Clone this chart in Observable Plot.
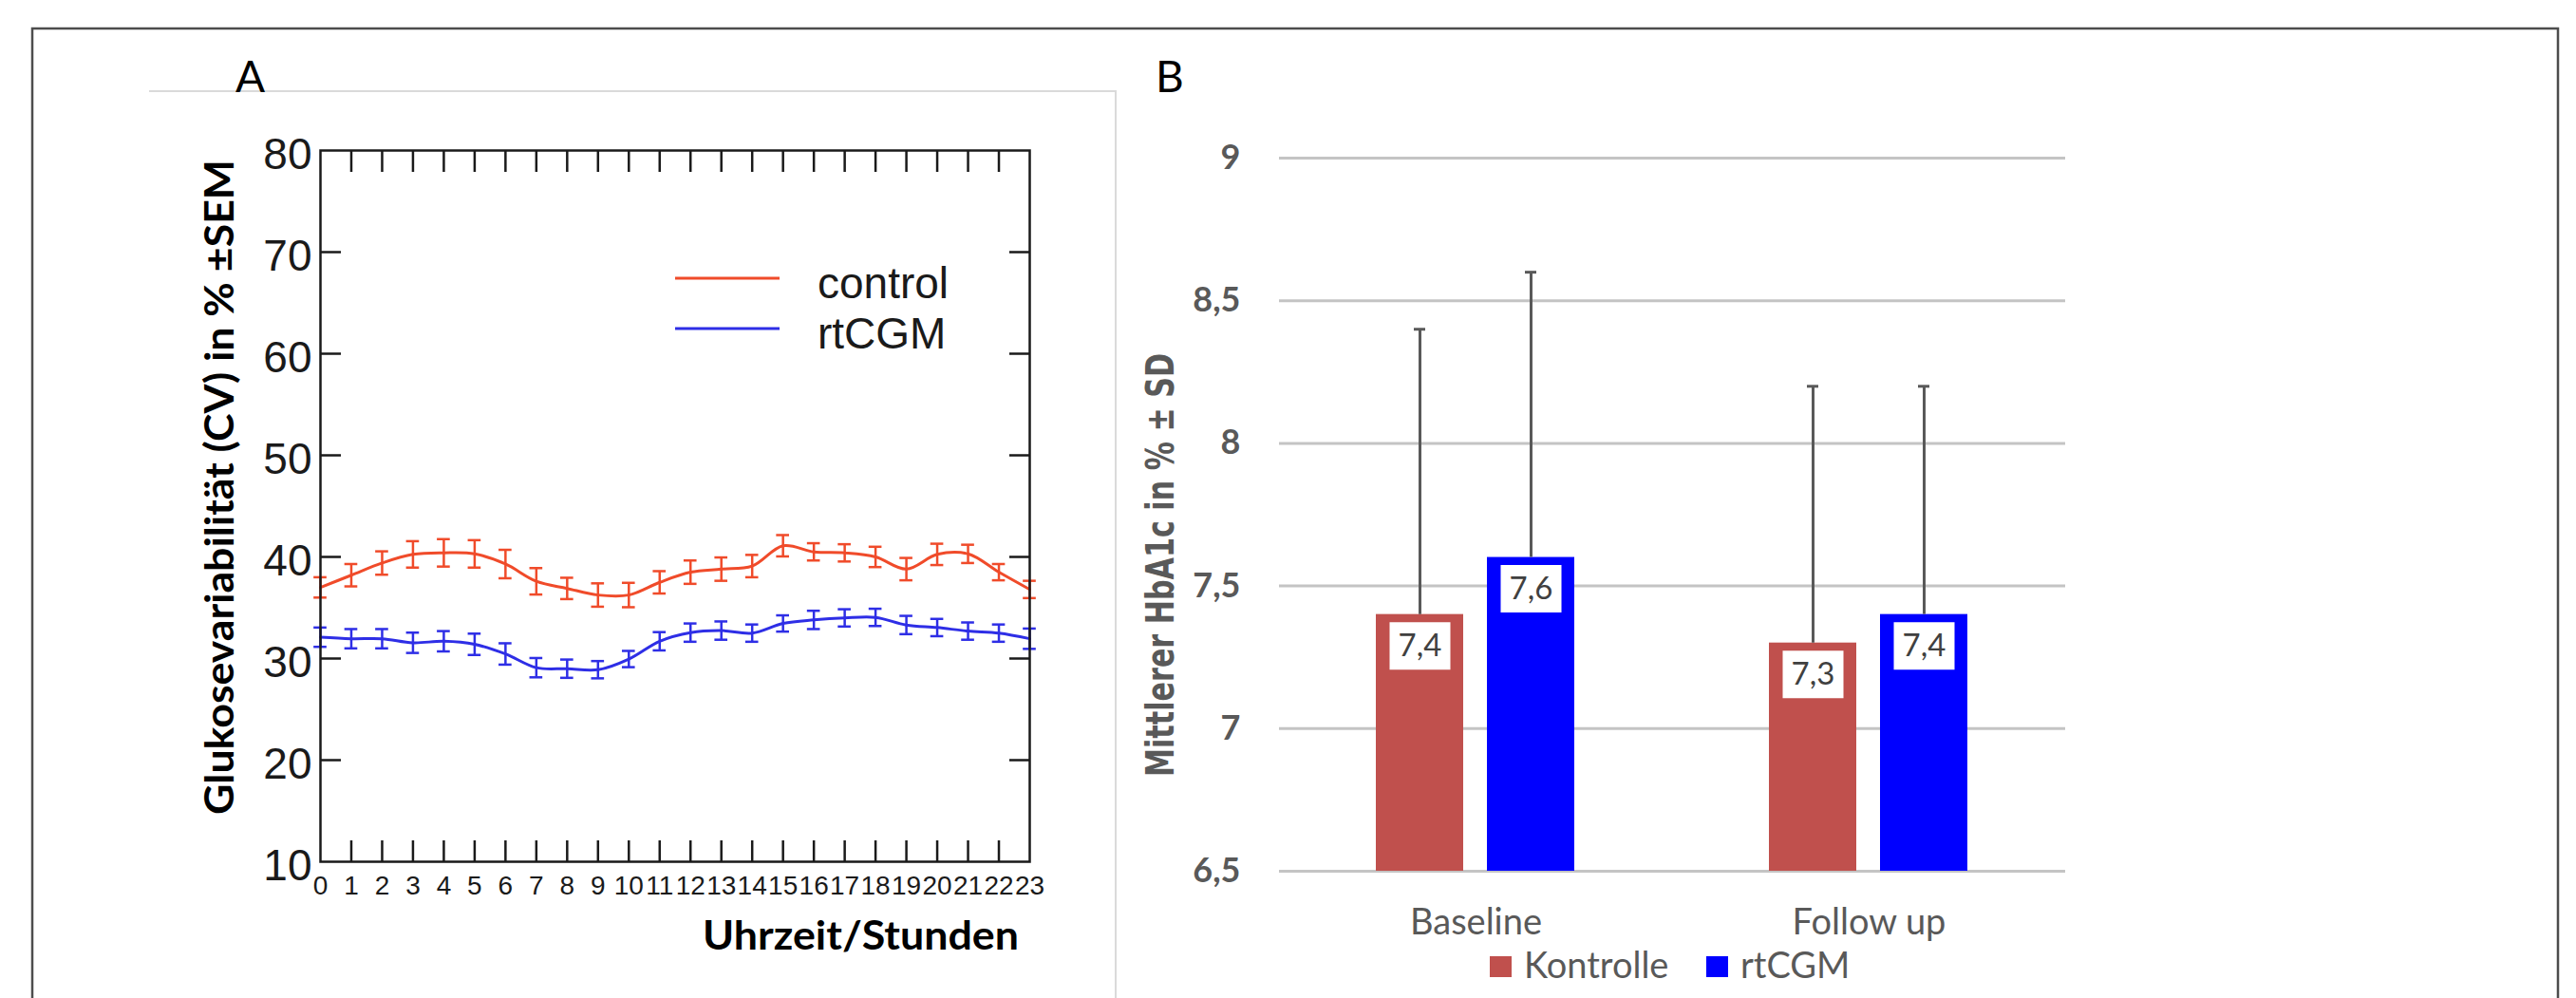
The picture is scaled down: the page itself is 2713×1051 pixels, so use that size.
<!DOCTYPE html>
<html>
<head>
<meta charset="utf-8">
<script src="https://cdn.jsdelivr.net/npm/d3@7"></script>
<script src="https://cdn.jsdelivr.net/npm/@observablehq/plot@0.6"></script>
<style>
html, body { margin: 0; padding: 0; width: 2713px; height: 1051px; overflow: hidden; background: #ffffff; }
#page { position: relative; width: 2713px; height: 1051px; }
#page > svg, #page > figure { position: absolute; top: 0; margin: 0; }
</style>
</head>
<body>
<div id="page"></div>
<script>
// ---------- Panel A data ----------
const hours = [0,1,2,3,4,5,6,7,8,9,10,11,12,13,14,15,16,17,18,19,20,21,22,23];
const innerHours = [1,2,3,4,5,6,7,8,9,10,11,12,13,14,15,16,17,18,19,20,21,22];
const yTicksA = [10,20,30,40,50,60,70,80];
const innerYTicksA = [20,30,40,50,60,70];
const seriesA = ["control", "rtCGM"];
const colorsA = ["#F04B2A", "#2E2EE6"];
const controlMean = [37.0,38.2,39.4,40.25,40.4,40.3,39.3,37.6,36.9,36.25,36.25,37.5,38.5,38.8,39.1,41.1,40.5,40.4,40.0,38.8,40.25,40.3,38.5,36.8];
const controlSem  = [1.0,1.1,1.15,1.3,1.35,1.35,1.4,1.3,1.05,1.15,1.2,1.1,1.15,1.15,1.1,1.05,0.85,0.85,1.0,1.1,1.05,0.9,0.8,0.85];
const rtcgmMean   = [32.1,31.95,31.95,31.55,31.7,31.4,30.45,29.1,29.0,28.9,29.95,31.7,32.55,32.75,32.5,33.45,33.8,34.0,34.05,33.3,33.05,32.7,32.5,31.95];
const rtcgmSem    = [0.95,0.95,0.95,1.0,1.0,1.05,1.05,0.95,0.9,0.85,0.8,0.9,0.9,0.9,0.85,0.8,0.9,0.85,0.85,0.9,0.85,0.85,0.85,1.0];
const titleA = "Glukosevariabilität (CV) in % ±SEM";
const xTitleA = "Uhrzeit/Stunden";

// ---------- Panel B data ----------
const groupsB = ["Baseline", "Follow up"];
const seriesB = ["Kontrolle", "rtCGM"];
const colorsB = ["#C0504D", "#0000FF"];
const kontrolleMean = [7.4, 7.3];
const kontrolleSD   = [1.0, 0.9];
const rtcgmBMean    = [7.6, 7.4];
const rtcgmBSD      = [1.0, 0.8];
const yTicksB = [6.5, 7, 7.5, 8, 8.5, 9];
const titleB = "Mittlerer HbA1c in % ± SD";

const comma = v => String(v).replace(".", ",");

// ---------- tables ----------
const meansA = [controlMean, rtcgmMean], semsA = [controlSem, rtcgmSem];
const rowsA = [];
seriesA.forEach((s, i) => hours.forEach((h, j) => rowsA.push({series: s, hour: h, mean: meansA[i][j], sem: semsA[i][j]})));

const meansB = [kontrolleMean, rtcgmBMean], sdsB = [kontrolleSD, rtcgmBSD];
const rowsB = [];
groupsB.forEach((g, i) => seriesB.forEach((s, j) => rowsB.push({group: g, series: s, mean: meansB[j][i], sd: sdsB[j][i]})));

const page = document.getElementById("page");
const ink = "#1a1a1a";

// ---------- Panel A ----------
const chartA = Plot.plot({
  width: 1175, height: 1051,
  marginLeft: 337, marginRight: 91, marginTop: 158, marginBottom: 144,
  style: {background: "transparent", overflow: "visible", fontFamily: "'Liberation Sans', Arial, sans-serif", color: ink},
  x: {domain: [hours[0], hours[hours.length - 1]]},
  y: {domain: [yTicksA[0], yTicksA[yTicksA.length - 1]]},
  color: {domain: seriesA, range: colorsA},
  marks: [
    Plot.ruleX(rowsA, {x: "hour", y1: d => d.mean - d.sem, y2: d => d.mean + d.sem, stroke: "series", strokeWidth: 2.5}),
    Plot.ruleY(rowsA, {y: d => d.mean + d.sem, x1: d => d.hour - 0.21, x2: d => d.hour + 0.21, stroke: "series", strokeWidth: 2.5}),
    Plot.ruleY(rowsA, {y: d => d.mean - d.sem, x1: d => d.hour - 0.21, x2: d => d.hour + 0.21, stroke: "series", strokeWidth: 2.5}),
    Plot.line(rowsA, {x: "hour", y: "mean", z: "series", stroke: "series", strokeWidth: 3, curve: "catmull-rom"}),
    // inward tick marks on all four sides
    Plot.axisY(innerYTicksA, {anchor: "left", tickSize: 22, dx: 22, fill: "none", stroke: ink, strokeWidth: 2.5, label: null}),
    Plot.axisY(innerYTicksA, {anchor: "right", tickSize: 22, dx: -22, fill: "none", stroke: ink, strokeWidth: 2.5, label: null}),
    Plot.axisX(innerHours, {anchor: "bottom", tickSize: 22, dy: -22, fill: "none", stroke: ink, strokeWidth: 2.5, label: null}),
    Plot.axisX(innerHours, {anchor: "top", tickSize: 22, dy: 22, fill: "none", stroke: ink, strokeWidth: 2.5, label: null}),
    // tick labels
    Plot.axisY(yTicksA, {anchor: "left", tickSize: 0, tickPadding: 9, dy: 5, fontSize: 46, fill: ink, label: null, tickFormat: d => String(d)}),
    Plot.axisX(hours, {anchor: "bottom", tickSize: 0, tickPadding: 15, fontSize: 28, fill: ink, label: null, tickFormat: d => String(d)}),
    Plot.frame({stroke: ink, strokeWidth: 2.5})
  ]
});
chartA.style.left = "0px";

// ---------- Panel B ----------
const boxSymbol = {draw(context) { context.rect(-32, -25, 64, 50); }};
const chartB = Plot.plot({
  width: 1100, height: 1051,
  marginLeft: 166, marginRight: 105, marginTop: 166, marginBottom: 134,
  style: {background: "transparent", overflow: "visible", fontFamily: "Lato, 'Open Sans', sans-serif", color: "#595959"},
  fx: {domain: groupsB, padding: 0, label: null},
  x: {domain: seriesB, paddingInner: 0.212, paddingOuter: 0.862, axis: null},
  y: {domain: [yTicksB[0], yTicksB[yTicksB.length - 1]]},
  color: {domain: seriesB, range: colorsB},
  marks: [
    Plot.ruleY(yTicksB, {stroke: "#c4c4c4", strokeWidth: 3}),
    Plot.barY(rowsB, {fx: "group", x: "series", y1: yTicksB[0], y2: "mean", fill: "series"}),
    Plot.ruleX(rowsB, {fx: "group", x: "series", y1: "mean", y2: d => d.mean + d.sd, stroke: "#595959", strokeWidth: 3}),
    Plot.tickY(rowsB, {fx: "group", x: "series", y: d => d.mean + d.sd, stroke: "#595959", strokeWidth: 3, insetLeft: 40, insetRight: 40}),
    Plot.dot(rowsB, {fx: "group", x: "series", y: "mean", dy: 33, symbol: boxSymbol, fill: "white", stroke: "none"}),
    Plot.text(rowsB, {fx: "group", x: "series", y: "mean", dy: 33, text: d => comma(d.mean), fontSize: 33, fill: "#404040"}),
    Plot.axisY(yTicksB, {anchor: "left", tickSize: 0, tickPadding: 41, fontSize: 36, fontWeight: "bold", fill: "#595959", label: null, tickFormat: comma}),
    Plot.axisFx({anchor: "bottom", tickSize: 0, tickPadding: 40, fontSize: 38, fill: "#595959", label: null})
  ]
});
chartB.style.left = "1180px";

// ---------- overlay: frames, panel letters, titles, legends ----------
const W = 2713, H = 1051;
const ov = d3.create("svg").attr("width", W).attr("height", H).attr("viewBox", `0 0 ${W} ${H}`)
  .style("left", "0px").style("pointer-events", "none");
ov.append("path").attr("d", `M34,${H} V30 H2694 V${H}`).attr("fill", "none").attr("stroke", "#4d4d4d").attr("stroke-width", 2.5);
ov.append("path").attr("d", `M157,96 H1175 V${H}`).attr("fill", "none").attr("stroke", "#dadada").attr("stroke-width", 2);

const txt = (s, x, y, o = {}) => {
  const t = ov.append("text").attr("x", x).attr("y", y).text(s)
    .attr("font-family", o.family || "Lato, sans-serif")
    .attr("font-size", o.size || 40)
    .attr("font-weight", o.weight || "normal")
    .attr("fill", o.fill || "#000")
    .attr("text-anchor", o.anchor || "start");
  if (o.len) t.attr("textLength", o.len).attr("lengthAdjust", "spacingAndGlyphs");
  if (o.rotate) t.attr("transform", `rotate(${o.rotate},${x},${y})`);
  if (o.baseline) t.attr("dominant-baseline", o.baseline);
  return t;
};
txt("A", 248, 97, {size: 46});
txt("B", 1217, 97, {size: 46});
txt(titleA, 230, 513, {size: 42, weight: "bold", anchor: "middle", rotate: -90, len: 690, baseline: "central"});
txt(xTitleA, 1073, 1000, {size: 42, weight: "bold", anchor: "end", len: 333});
txt(titleB, 1222, 595, {size: 40, weight: "bold", anchor: "middle", rotate: -90, len: 446, baseline: "central", family: "'DejaVu Sans', Verdana, sans-serif", fill: "#595959"});

// legend A (inside panel A)
const legAY = [293, 346];
seriesA.forEach((s, i) => {
  ov.append("line").attr("x1", 711).attr("x2", 821).attr("y1", legAY[i]).attr("y2", legAY[i])
    .attr("stroke", colorsA[i]).attr("stroke-width", 3);
  txt(s, 861, legAY[i] + 21, {size: 46, family: "'Liberation Sans', Arial, sans-serif", fill: ink});
});

// legend B (below panel B)
const legBX = [1569, 1797];
seriesB.forEach((s, i) => {
  ov.append("rect").attr("x", legBX[i]).attr("y", 1007).attr("width", 23).attr("height", 22).attr("fill", colorsB[i]);
  txt(s, legBX[i] + 36, 1030, {size: 38, fill: "#595959"});
});

page.appendChild(chartA);
page.appendChild(chartB);
page.appendChild(ov.node());
</script>
</body>
</html>
